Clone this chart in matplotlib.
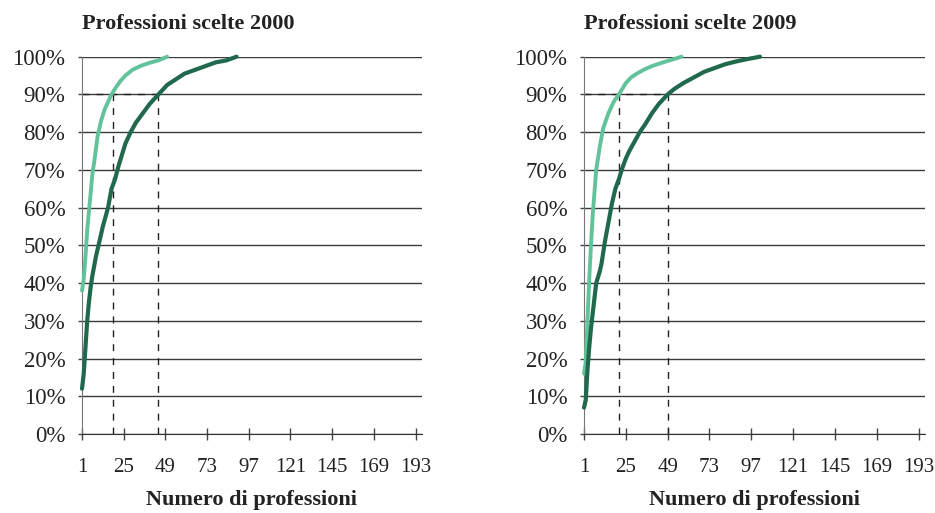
import matplotlib
matplotlib.use("Agg")
import matplotlib.pyplot as plt

plt.rcParams['font.family'] = ['Liberation Serif', 'DejaVu Serif']

# Professioni scelte 2000
x_2000_chiaro = [1, 2, 3, 4, 5, 6, 7, 8, 10, 12, 14, 16, 18, 20, 23, 26, 30, 35, 40, 45, 50]
y_2000_chiaro = [38, 41, 47, 54, 59, 64, 69, 72, 79, 83, 86, 88, 90, 91.5, 93.5, 95, 96.5, 97.6, 98.4, 99, 100]
x_2000_scuro = [1, 2, 3, 4, 5, 6, 7, 9, 11, 13, 16, 18, 20, 22, 24, 26, 29, 32, 36, 40, 45, 50,
                55, 60, 66, 72, 78, 84, 90]
y_2000_scuro = [12, 16, 23, 30, 35, 39, 42, 47, 51, 55, 60, 65, 67.5, 71, 74, 77, 80, 82.5, 85, 87.5,
                90, 92.5, 94, 95.5, 96.5, 97.5, 98.5, 99, 100]
soglie_2000 = [19, 45]

# Professioni scelte 2009
x_2009_chiaro = [1, 2, 3, 4, 5, 6, 7, 8, 10, 12, 15, 18, 21, 25, 28, 32, 36, 40, 45, 50, 57]
y_2009_chiaro = [16, 19, 30, 41, 50, 58, 64, 70, 76, 81, 85, 88, 90, 93, 94.5, 95.7, 96.7, 97.5, 98.3, 99, 100]
x_2009_scuro = [1, 2, 3, 4, 5, 6, 8, 10, 11, 13, 15, 17, 19, 21, 23, 25, 27, 30, 33, 36, 40, 44,
                49, 53, 58, 64, 70, 76, 82, 88, 94, 102]
y_2009_scuro = [7, 9, 17, 23, 28, 32, 40, 43, 45, 51, 56, 61, 65, 67.5, 70.5, 73, 75, 77.5, 80, 82,
                85, 87.5, 90, 91.5, 93, 94.5, 96, 97, 98, 98.7, 99.3, 100]
soglie_2009 = [21, 49]

x_ticks = [1, 25, 49, 73, 97, 121, 145, 169, 193]
y_ticks = list(range(0, 101, 10))

col_chiaro = '#62c39b'
col_scuro = '#21694d'

fig = plt.figure(figsize=(9.35, 5.13), dpi=100)
ax1 = fig.add_axes([0.0877, 0.154, 0.3636, 0.7355])
ax2 = fig.add_axes([0.6246, 0.154, 0.3647, 0.7355])

pannelli = [
    (ax1, "Professioni scelte 2000", x_2000_chiaro, y_2000_chiaro, x_2000_scuro, y_2000_scuro, soglie_2000),
    (ax2, "Professioni scelte 2009", x_2009_chiaro, y_2009_chiaro, x_2009_scuro, y_2009_scuro, soglie_2009),
]

for ax, titolo, xc, yc, xs, ys, soglie in pannelli:
    for v in y_ticks:
        ax.axhline(v, color='#3a3a3a', lw=1.0, zorder=1)
    # linee tratteggiate della soglia al 90%
    for s in soglie:
        ax.plot([s, s], [0, 90], color='#222222', lw=1.0, ls=(0, (5, 5)), zorder=2)
    ax.plot([1, max(soglie)], [90, 90], color='#222222', lw=1.0, ls=(0, (5, 5)), zorder=2)
    ax.plot(xc, yc, color=col_chiaro, lw=2.8, solid_capstyle='round', solid_joinstyle='round',
            zorder=3, clip_on=False)
    ax.plot(xs, ys, color=col_scuro, lw=3.0, solid_capstyle='round', solid_joinstyle='round',
            zorder=4, clip_on=False)

    ax.set_xlim(1, 196.7)
    ax.set_ylim(0, 100)
    ax.set_xticks(x_ticks)
    ax.set_yticks(y_ticks)
    ax.set_yticklabels([f"{v}%" for v in y_ticks])
    ax.tick_params(axis='x', direction='inout', length=8, width=1, color='#444444',
                   labelsize=15, pad=13)
    ax.tick_params(axis='y', direction='out', length=3, width=1, color='#444444',
                   labelsize=16.5, pad=9)
    for lab in ax.get_xticklabels() + ax.get_yticklabels():
        lab.set_color('#222222')
    ax.spines['top'].set_visible(False)
    ax.spines['right'].set_visible(False)
    ax.spines['left'].set_color('#777777')
    ax.spines['bottom'].set_color('#333333')
    ax.set_title(titolo, loc='left', fontsize=16, fontweight='bold', pad=20, color='#222222')
    ax.set_xlabel("Numero di professioni", fontsize=16, fontweight='bold', labelpad=10, color='#222222')

fig.savefig("out.png", dpi=100)
